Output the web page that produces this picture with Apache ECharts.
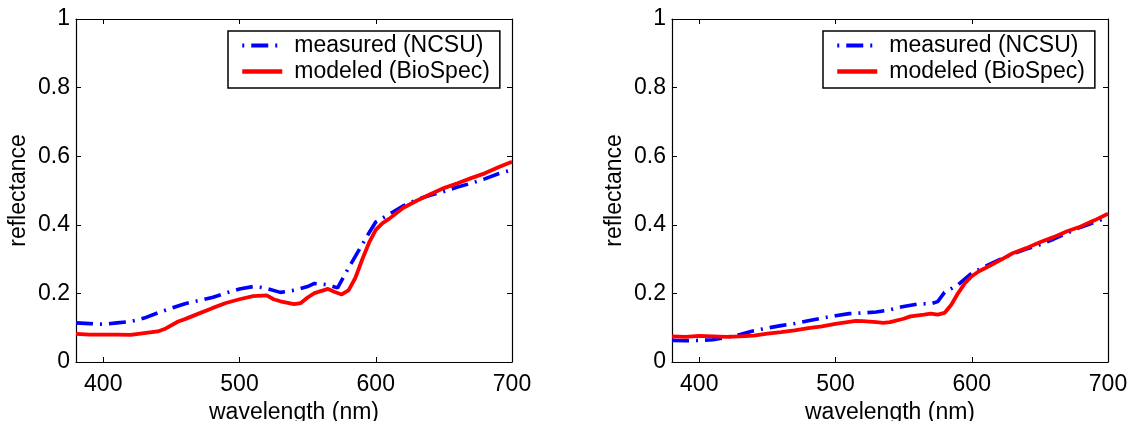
<!DOCTYPE html>
<html>
<head>
<meta charset="utf-8">
<script src="https://cdn.jsdelivr.net/npm/echarts@6/dist/echarts.min.js"></script>
<style>
html,body{margin:0;padding:0;background:#fff;}
#chart{width:1129px;height:421px;}
</style>
</head>
<body>
<div id="chart"></div>
<script>
// ---- data ----
var xTicks = [400, 500, 600, 700];

var leftMeasuredNm  = [380,390,400,410,420,430,440,450,460,470,480,490,500,510,515,520,530,540,550,555,565,572,576,580,585,590,595,600,610,620,630,640,650,660,670,680,690,700];
var leftMeasuredVal = [0.114,0.112,0.110,0.114,0.118,0.128,0.143,0.157,0.170,0.179,0.188,0.201,0.213,0.220,0.218,0.214,0.203,0.209,0.220,0.229,0.225,0.216,0.245,0.274,0.308,0.342,0.376,0.408,0.431,0.455,0.473,0.486,0.497,0.510,0.521,0.534,0.549,0.560];

var leftModeledNm  = [380,390,400,410,420,430,440,445,455,460,470,480,490,500,510,520,525,530,540,545,550,555,565,570,575,580,585,590,595,600,605,610,620,630,640,650,660,670,680,690,700];
var leftModeledVal = [0.082,0.080,0.080,0.080,0.079,0.084,0.089,0.096,0.118,0.125,0.141,0.157,0.172,0.183,0.192,0.194,0.183,0.177,0.169,0.172,0.188,0.201,0.213,0.204,0.197,0.209,0.245,0.298,0.347,0.385,0.405,0.418,0.449,0.470,0.489,0.507,0.521,0.536,0.550,0.568,0.584];

var rightMeasuredNm  = [380,390,400,410,420,430,440,450,460,470,480,490,500,510,520,530,540,550,560,570,575,580,590,600,610,620,630,640,650,660,670,680,690,700];
var rightMeasuredVal = [0.063,0.062,0.063,0.065,0.072,0.080,0.091,0.099,0.106,0.112,0.120,0.128,0.135,0.141,0.143,0.146,0.152,0.162,0.169,0.170,0.176,0.203,0.225,0.259,0.279,0.298,0.315,0.329,0.342,0.358,0.376,0.393,0.407,0.422];

var rightModeledNm  = [380,390,400,410,420,430,440,450,460,470,480,490,500,510,515,520,530,535,540,550,555,565,570,575,580,585,590,595,600,605,610,620,630,640,650,660,670,680,690,700];
var rightModeledVal = [0.075,0.073,0.076,0.075,0.073,0.075,0.077,0.083,0.087,0.092,0.099,0.104,0.111,0.117,0.120,0.119,0.116,0.114,0.116,0.126,0.133,0.138,0.141,0.138,0.143,0.167,0.201,0.230,0.250,0.264,0.274,0.295,0.317,0.332,0.349,0.364,0.381,0.395,0.413,0.432];

var measuredName = 'measured (NCSU)';
var modeledName = 'modeled (BioSpec)';

function pairs(xs, ys){ return xs.map(function(x,i){ return [x, ys[i]]; }); }

var FONT = '"Liberation Sans", Arial, Helvetica, sans-serif';
var FS = 23;

function xAxisMain(gi){
  return {
    type:'value', gridIndex:gi, min:380, max:700, position:'bottom',
    name:'wavelength (nm)', nameLocation:'middle', nameGap:36,
    nameTextStyle:{color:'#000', fontSize:FS, fontFamily:FONT},
    axisLine:{show:true, onZero:false, lineStyle:{color:'#000', width:1.2}},
    axisTick:{show:true, inside:true, length:5, customValues:xTicks, lineStyle:{color:'#000', width:1}},
    axisLabel:{show:true, margin:11, color:'#000', fontSize:FS, fontFamily:FONT, customValues:xTicks},
    splitLine:{show:false}
  };
}
function xAxisTop(gi){
  return {
    type:'value', gridIndex:gi, min:380, max:700, position:'top',
    axisLine:{show:true, onZero:false, lineStyle:{color:'#000', width:1.2}},
    axisTick:{show:true, inside:true, length:5, customValues:xTicks, lineStyle:{color:'#000', width:1}},
    axisLabel:{show:false, customValues:xTicks},
    splitLine:{show:false}
  };
}
function yAxisMain(gi){
  return {
    type:'value', gridIndex:gi, min:0, max:1, interval:0.2, position:'left',
    name:'reflectance', nameLocation:'middle', nameGap:46,
    nameTextStyle:{color:'#000', fontSize:FS, fontFamily:FONT},
    axisLine:{show:true, onZero:false, lineStyle:{color:'#000', width:1.2}},
    axisTick:{show:true, inside:true, length:5, lineStyle:{color:'#000', width:1}},
    axisLabel:{show:true, margin:6, color:'#000', fontSize:FS, fontFamily:FONT},
    splitLine:{show:false}
  };
}
function yAxisRight(gi){
  return {
    type:'value', gridIndex:gi, min:0, max:1, interval:0.2, position:'right',
    axisLine:{show:true, onZero:false, lineStyle:{color:'#000', width:1.2}},
    axisTick:{show:true, inside:true, length:5, lineStyle:{color:'#000', width:1}},
    axisLabel:{show:false},
    splitLine:{show:false}
  };
}

var measuredStyle = {color:'#0000ff', width:3.6, type:[17,7,2,7]};
var modeledStyle = {color:'#ff0000', width:3.8, type:'solid'};

function legendAt(left){
  return {
    left:left, top:31, orient:'vertical',
    data:[
      {name:measuredName, lineStyle:{type:[17,7,2,7], dashOffset:24, width:4}},
      {name:modeledName, lineStyle:{width:4.5}}
    ],
    itemWidth:40, itemHeight:14, itemGap:3,
    padding:[3,10,5,12],
    borderColor:'#000', borderWidth:1.5, backgroundColor:'#fff',
    itemStyle:{opacity:0},
    textStyle:{color:'#000', fontSize:FS, fontFamily:FONT, lineHeight:23, padding:[0,0,0,7]},
    selectedMode:false
  };
}

var option = {
  animation:false,
  backgroundColor:'#fff',
  grid:[
    {left:76, right:617, top:19, bottom:59, containLabel:false, outerBoundsMode:'none'},
    {left:672, right:21, top:19, bottom:59, containLabel:false, outerBoundsMode:'none'}
  ],
  xAxis:[xAxisMain(0), xAxisTop(0), xAxisMain(1), xAxisTop(1)],
  yAxis:[yAxisMain(0), yAxisRight(0), yAxisMain(1), yAxisRight(1)],
  legend:[legendAt(228), legendAt(823)],
  series:[
    {name:measuredName, type:'line', xAxisIndex:0, yAxisIndex:0, symbol:'none', lineStyle:measuredStyle, itemStyle:{color:'#0000ff'}, data:pairs(leftMeasuredNm, leftMeasuredVal), z:2},
    {name:modeledName, type:'line', xAxisIndex:0, yAxisIndex:0, symbol:'none', lineStyle:modeledStyle, itemStyle:{color:'#ff0000'}, data:pairs(leftModeledNm, leftModeledVal), z:3},
    {name:measuredName, type:'line', xAxisIndex:2, yAxisIndex:2, symbol:'none', lineStyle:measuredStyle, itemStyle:{color:'#0000ff'}, data:pairs(rightMeasuredNm, rightMeasuredVal), z:2},
    {name:modeledName, type:'line', xAxisIndex:2, yAxisIndex:2, symbol:'none', lineStyle:modeledStyle, itemStyle:{color:'#ff0000'}, data:pairs(rightModeledNm, rightModeledVal), z:3}
  ]
};

var chart = echarts.init(document.getElementById('chart'), null, {renderer:'canvas'});
chart.setOption(option);
</script>
</body>
</html>
